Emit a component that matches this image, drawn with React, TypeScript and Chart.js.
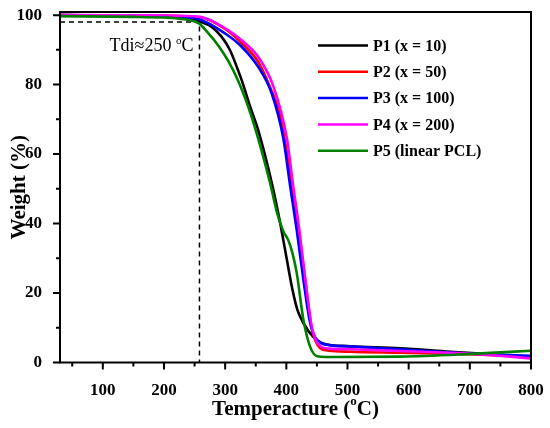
import React, { useEffect, useRef } from 'react';
import { Chart, registerables } from 'chart.js';

Chart.register(...registerables);

// TGA curves: temperature (°C) / weight (%)
const p1Temp = [30, 200, 230, 259, 278, 294, 308, 319, 327, 341, 354, 377, 390, 401, 410, 418, 428, 444, 460, 504, 586, 668, 749, 800];
const p1Weight = [100, 99.6, 99.2, 98.1, 96.6, 93.8, 89.9, 85.1, 81.3, 73.6, 66.9, 51.1, 40.1, 29.5, 21.0, 15.2, 11.3, 7.4, 5.5, 4.7, 4.1, 3.1, 2.2, 1.5];

const p2Temp = [30, 200, 259, 300, 327, 354, 373, 390, 409, 420, 431, 441, 455, 470, 504, 586, 695, 800];
const p2Weight = [100, 99.8, 99.4, 96.0, 91.9, 86.5, 79.4, 71.2, 51.1, 38.1, 23.7, 10.3, 4.2, 3.4, 3.1, 2.8, 2.4, 1.7];

const p3Temp = [30, 200, 257, 300, 327, 354, 376, 395, 406, 417, 428, 439, 450, 470, 504, 586, 695, 800];
const p3Weight = [100, 99.7, 98.8, 94.7, 90.9, 85.1, 77.5, 64.6, 51.1, 38.1, 23.7, 11.3, 6.5, 5.0, 4.6, 3.8, 2.6, 1.9];

const p4Temp = [30, 200, 259, 300, 327, 354, 379, 401, 411, 421, 431, 442, 456, 470, 504, 586, 695, 800];
const p4Weight = [100, 99.9, 99.5, 96.2, 92.8, 88.0, 79.4, 64.5, 51.1, 38.5, 24.0, 10.0, 4.6, 4.0, 3.8, 3.3, 2.6, 1.2];

const p5Temp = [30, 150, 200, 218, 257, 272, 289, 305, 321, 335, 349, 373, 385, 395, 403, 410, 417, 428, 439, 450, 465, 586, 695, 800];
const p5Weight = [99.7, 99.5, 99.3, 99.1, 97.6, 94.9, 91.2, 86.8, 81.2, 75.0, 67.5, 52.0, 43.0, 37.8, 35.3, 31.5, 25.8, 12.2, 4.5, 1.8, 1.6, 1.7, 2.4, 3.4];

const seriesLabels = ['P1 (x = 10)', 'P2 (x = 50)', 'P3 (x = 100)', 'P4 (x = 200)', 'P5 (linear PCL)'];
const seriesColors = ['#000000', '#ff0000', '#0000ff', '#ff00ff', '#008000'];

// Tdi marker
const tdiTemp = 258;
const tdiWeight = 98;

const xTicks = [50, 100, 150, 200, 250, 300, 350, 400, 450, 500, 550, 600, 650, 700, 750, 800];
const yTicks = [0, 10, 20, 30, 40, 50, 60, 70, 80, 90, 100];

const AXIS_FONT = '"Liberation Serif", "Times New Roman", serif';

const toPoints = (xs: number[], ys: number[]) => xs.map((x, i) => ({ x, y: ys[i] }));

// draws text pieces, some of them superscript
const drawParts = (ctx: any, parts: { t: string; sup?: boolean }[], x: number, y: number, size: number, weight: string, align: string) => {
  const font = (s: number) => `${weight} ${s}px ${AXIS_FONT}`;
  const supSize = Math.round(size * 0.6);
  let w = 0;
  parts.forEach(p => {
    ctx.font = font(p.sup ? supSize : size);
    w += ctx.measureText(p.t).width;
  });
  let cx = align === 'center' ? x - w / 2 : align === 'right' ? x - w : x;
  ctx.textAlign = 'left';
  parts.forEach(p => {
    ctx.font = font(p.sup ? supSize : size);
    ctx.fillText(p.t, cx, p.sup ? y - size * 0.38 : y);
    cx += ctx.measureText(p.t).width;
  });
};

const decor = {
  id: 'decor',
  afterDraw(chart: any) {
    const { ctx, chartArea: a, scales } = chart;
    const xs = scales.x;
    const ys = scales.y;
    ctx.save();
    ctx.strokeStyle = '#000';
    ctx.fillStyle = '#000';

    // frame
    ctx.lineWidth = 2;
    ctx.strokeRect(a.left, a.top, a.right - a.left, a.bottom - a.top);

    // outward ticks
    ctx.beginPath();
    xTicks.forEach(v => {
      const px = xs.getPixelForValue(v);
      const len = v % 100 === 0 ? 7 : 4;
      ctx.moveTo(px, a.bottom);
      ctx.lineTo(px, a.bottom + len);
    });
    yTicks.forEach(v => {
      const py = ys.getPixelForValue(v);
      const len = v % 20 === 0 ? 7 : 4;
      ctx.moveTo(a.left, py);
      ctx.lineTo(a.left - len, py);
    });
    ctx.stroke();

    // legend inside the plot
    const named = chart.data.datasets.filter((d: any) => d.showInLegend);
    ctx.textBaseline = 'middle';
    named.forEach((d: any, i: number) => {
      const y = a.top + 33.5 + i * 26.3;
      ctx.strokeStyle = d.borderColor;
      ctx.lineWidth = 2.5;
      ctx.beginPath();
      ctx.moveTo(a.right - 213, y);
      ctx.lineTo(a.right - 163, y);
      ctx.stroke();
      ctx.font = `bold 16px ${AXIS_FONT}`;
      ctx.textAlign = 'left';
      ctx.fillText(d.label, a.right - 158, y + 1);
    });

    // Tdi annotation
    ctx.textBaseline = 'alphabetic';
    const vx = xs.getPixelForValue(tdiTemp);
    drawParts(ctx, [{ t: 'Tdi≈250 ' }, { t: 'o', sup: true }, { t: 'C' }], vx - 6, a.top + 39, 18, 'normal', 'right');

    // axis titles
    ctx.textBaseline = 'middle';
    drawParts(ctx, [{ t: 'Temperacture (' }, { t: 'o', sup: true }, { t: 'C)' }], (a.left + a.right) / 2, 410, 21, 'bold', 'center');

    ctx.translate(20, (a.top + a.bottom) / 2);
    ctx.rotate(-Math.PI / 2);
    drawParts(ctx, [{ t: 'Weight (%)' }], 0, 0, 21, 'bold', 'center');
    ctx.restore();
  },
};

const App = () => {
  const canvasRef = useRef<HTMLCanvasElement>(null);

  useEffect(() => {
    const ctx: any = canvasRef.current && canvasRef.current.getContext('2d');
    const series = [
      toPoints(p1Temp, p1Weight),
      toPoints(p2Temp, p2Weight),
      toPoints(p3Temp, p3Weight),
      toPoints(p4Temp, p4Weight),
      toPoints(p5Temp, p5Weight),
    ];

    const datasets: any[] = series.map((pts, i) => ({
      label: seriesLabels[i],
      data: pts,
      borderColor: seriesColors[i],
      backgroundColor: seriesColors[i],
      borderWidth: 2.6,
      pointRadius: 0,
      cubicInterpolationMode: 'monotone',
      order: 5 - i, // later series on top, like in the original
      showInLegend: true,
    }));

    datasets.push({
      label: 'Tdi',
      data: [
        { x: 30, y: tdiWeight },
        { x: tdiTemp, y: tdiWeight },
        { x: tdiTemp, y: 0 },
      ],
      borderColor: '#000',
      borderWidth: 1.5,
      borderDash: [5, 4],
      pointRadius: 0,
      tension: 0,
      order: 10,
      showInLegend: false,
    });

    const config: any = {
      type: 'line',
      data: { datasets },
      options: {
        animation: false,
        responsive: true,
        maintainAspectRatio: false,
        layout: { padding: { top: 12, right: 19, left: 0, bottom: 0 } },
        plugins: {
          legend: { display: false },
          tooltip: { enabled: false },
        },
        scales: {
          x: {
            type: 'linear',
            min: 30,
            max: 800,
            grid: { display: false },
            border: { display: false },
            afterBuildTicks: (s: any) => { s.ticks = xTicks.map(v => ({ value: v })); },
            afterFit: (s: any) => {
              s.height = 65.5;
              s.paddingLeft = 0;
              s.paddingRight = 0;
            },
            ticks: {
              autoSkip: false,
              maxRotation: 0,
              padding: 10,
              color: '#000',
              font: { family: AXIS_FONT, size: 17, weight: 'bold' },
              callback: (v: number) => (v % 100 === 0 ? String(v) : ''),
            },
          },
          y: {
            type: 'linear',
            min: 0,
            max: 100.9,
            grid: { display: false },
            border: { display: false },
            afterBuildTicks: (s: any) => { s.ticks = yTicks.map(v => ({ value: v })); },
            afterFit: (s: any) => {
              s.width = 60;
              s.paddingTop = 0;
              s.paddingBottom = 0;
            },
            ticks: {
              autoSkip: false,
              padding: 10,
              color: '#000',
              font: { family: AXIS_FONT, size: 17, weight: 'bold' },
              callback: (v: number) => (v % 20 === 0 ? String(v) : ''),
            },
          },
        },
      },
      plugins: [decor],
    };

    const chart = new Chart(ctx, config);
    return () => {
      chart.destroy();
    };
  }, []);

  return (
    <div style={{ position: 'fixed', left: 0, top: 0, width: '550px', height: '428px', background: '#fff' }}>
      <canvas ref={canvasRef}></canvas>
    </div>
  );
};

export default App;
